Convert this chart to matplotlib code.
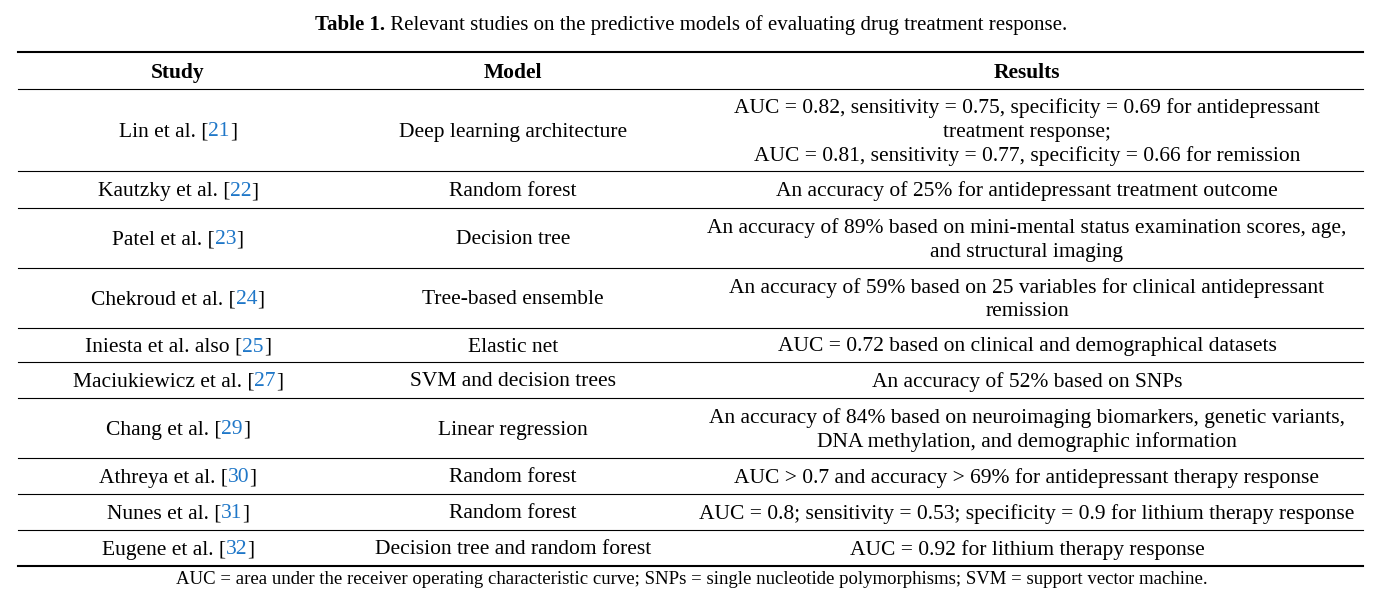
import matplotlib
matplotlib.use("Agg")
import matplotlib.pyplot as plt

studies = ["Lin et al.", "Kautzky et al.", "Patel et al.", "Chekroud et al.", "Iniesta et al. also",
           "Maciukiewicz et al.", "Chang et al.", "Athreya et al.", "Nunes et al.", "Eugene et al."]
refs = ["21", "22", "23", "24", "25", "27", "29", "30", "31", "32"]
models = ["Deep learning architecture", "Random forest", "Decision tree", "Tree-based ensemble",
          "Elastic net", "SVM and decision trees", "Linear regression", "Random forest",
          "Random forest", "Decision tree and random forest"]
results = [
    ["AUC = 0.82, sensitivity = 0.75, specificity = 0.69 for antidepressant", "treatment response;",
     "AUC = 0.81, sensitivity = 0.77, specificity = 0.66 for remission"],
    ["An accuracy of 25% for antidepressant treatment outcome"],
    ["An accuracy of 89% based on mini-mental status examination scores, age,", "and structural imaging"],
    ["An accuracy of 59% based on 25 variables for clinical antidepressant", "remission"],
    ["AUC = 0.72 based on clinical and demographical datasets"],
    ["An accuracy of 52% based on SNPs"],
    ["An accuracy of 84% based on neuroimaging biomarkers, genetic variants,", "DNA methylation, and demographic information"],
    ["AUC > 0.7 and accuracy > 69% for antidepressant therapy response"],
    ["AUC = 0.8; sensitivity = 0.53; specificity = 0.9 for lithium therapy response"],
    ["AUC = 0.92 for lithium therapy response"],
]
headers = ["Study", "Model", "Results"]
title_bold = "Table 1."
title_rest = " Relevant studies on the predictive models of evaluating drug treatment response."
footnote = "AUC = area under the receiver operating characteristic curve; SNPs = single nucleotide polymorphisms; SVM = support vector machine."

W, H = 1383, 594
fig = plt.figure(figsize=(W / 100, H / 100), dpi=100)
ax = fig.add_axes([0, 0, 1, 1])
ax.set_xlim(0, W); ax.set_ylim(H, 0); ax.axis("off")
FONT = "Liberation Serif"
FS = 15.5
BLUE = "#1f77c8"
r = fig.canvas.get_renderer()

def width(s, fs=FS, fw="normal"):
    t = ax.text(0, 0, s, fontsize=fs, family=FONT, fontweight=fw)
    bb = t.get_window_extent(renderer=r)
    t.remove()
    return bb.width

def adv(s, fs=FS, fw="normal"):
    return width(s + "x", fs, fw) - width("x", fs, fw)

def rich(xc, y, parts, fs=FS):
    ws = [adv(s, fs, w) for s, c, w in parts]
    x = xc - sum(ws) / 2
    for (s, c, w), wd in zip(parts, ws):
        ax.text(x, y, s, fontsize=fs, family=FONT, color=c, fontweight=w, ha="left", va="center")
        x += wd

DY = 2
cols = [178, 513, 1027]
x0, x1 = 18, 1363
rich(W / 2, 25, [(title_bold, "black", "bold"), (title_rest, "black", "normal")], fs=15)
ax.plot([x0, x1], [52, 52], color="black", lw=1.5)
for c, h in zip(cols, headers):
    ax.text(c, 71 + DY, h, fontsize=FS, family=FONT, fontweight="bold", ha="center", va="center")
bounds = [89, 171, 208, 268, 328, 362, 398, 458, 494, 530, 566]
for i in range(len(studies)):
    top, bot = bounds[i], bounds[i + 1]
    yc = (top + bot) / 2 + DY
    rich(cols[0], yc, [(studies[i] + " [", "black", "normal"), (refs[i], BLUE, "normal"), ("]", "black", "normal")])
    ax.text(cols[1], yc, models[i], fontsize=FS, family=FONT, ha="center", va="center")
    n = len(results[i])
    for k, line in enumerate(results[i]):
        ax.text(cols[2], yc + (k - (n - 1) / 2) * 24, line, fontsize=FS, family=FONT, ha="center", va="center")
for b in bounds[:-1]:
    ax.plot([x0, x1], [b, b], color="black", lw=0.8)
ax.plot([x0, x1], [566, 566], color="black", lw=1.5)
ax.text(W / 2, 580, footnote, fontsize=13.5, family=FONT, ha="center", va="center")
fig.savefig("out.png", dpi=100)
